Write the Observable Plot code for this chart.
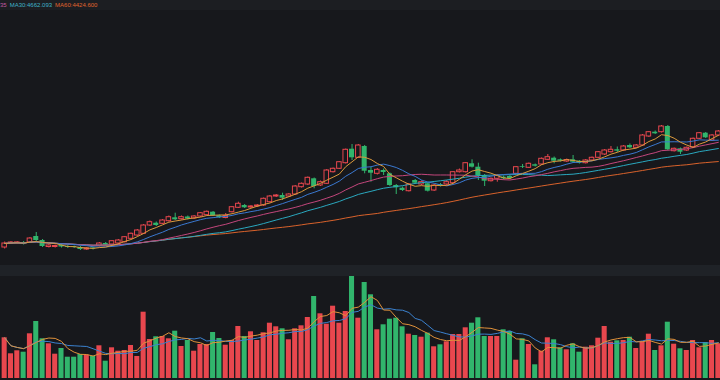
<!DOCTYPE html>
<html><head><meta charset="utf-8">
<script src="https://cdn.jsdelivr.net/npm/d3@7"></script>
<script src="https://cdn.jsdelivr.net/npm/@observablehq/plot@0.6"></script>
<style>
html,body{margin:0;padding:0;background:#17181c;width:720px;height:380px;overflow:hidden;}
#legend{height:10px;background:#1c1e22;font:6px "Liberation Sans",Arial,sans-serif;line-height:10px;white-space:nowrap;overflow:hidden;}
#legend span{margin-right:3px}
#sep{height:11px;background:#1f2227}
svg{display:block}
</style></head><body>
<div id="legend"><span style="color:#c05aa0">35</span><span style="color:#3fb3c9">MA30:4662.093</span><span style="color:#e0652e">MA60:4424.600</span></div>
<div id="price"></div>
<div id="sep"></div>
<div id="vol"></div>
<script>
const open = [2660,2740,2745,2760,2760,2880,2800,2670,2670,2710,
2680,2680,2660,2620,2650,2690,2740,2720,2740,2766,
2834,2900,2934,3100,3146,3134,3186,3254,3226,3270,
3240,3280,3306,3366,3294,3250,3366,3454,3500,3460,
3480,3500,3566,3680,3700,3680,3720,3866,3920,4034,
3900,3934,4166,4234,4346,4626,4454,4680,4200,4134,
4200,4134,3900,3846,3786,4000,3920,3934,3800,3920,
3920,3946,4166,4166,4334,4266,4100,3986,4034,4066,
4080,4134,4274,4254,4314,4320,4414,4446,4414,4380,
4414,4386,4346,4400,4454,4520,4566,4614,4600,4700,
4654,4700,4880,4966,4966,5080,4586,4634,4600,4666,
4834,4946,4800,4900];
const close = [2740,2760,2762,2730,2840,2800,2680,2700,2690,2670,
2660,2660,2620,2640,2630,2740,2710,2786,2800,2866,
2934,3000,3100,3166,3100,3200,3266,3214,3266,3230,
3280,3346,3374,3294,3254,3290,3466,3534,3454,3480,
3500,3634,3680,3700,3646,3720,3880,3934,4054,3880,
3966,4200,4234,4366,4614,4454,4700,4186,4146,4214,
4160,3900,3854,3800,3920,3946,3966,3786,3900,3894,
3966,4166,4200,4346,4266,4100,3986,4034,4100,4034,
4040,4266,4260,4334,4286,4434,4466,4386,4386,4410,
4366,4346,4400,4454,4566,4600,4614,4586,4680,4654,
4700,4900,4966,4934,5080,4614,4634,4566,4654,4834,
4946,4854,4900,4980];
const high = [2770,2780,2778,2780,2860,2960,2820,2720,2710,2730,
2700,2690,2680,2660,2670,2760,2760,2800,2820,2880,
2950,3020,3120,3190,3170,3220,3290,3346,3290,3290,
3300,3360,3390,3380,3310,3340,3480,3566,3520,3500,
3520,3650,3700,3720,3746,3740,3900,3950,4070,4050,
3990,4220,4250,4380,4630,4720,4720,4700,4266,4240,
4230,4150,3920,3870,3940,4020,3990,3950,3920,3940,
4000,4180,4230,4360,4414,4346,4120,4050,4120,4090,
4100,4280,4320,4350,4330,4450,4520,4470,4430,4430,
4500,4400,4420,4470,4580,4620,4680,4670,4700,4730,
4720,4920,4980,4990,5100,5100,4650,4650,4670,4850,
4960,4960,4920,5000];
const low = [2630,2720,2725,2710,2740,2780,2660,2650,2650,2650,
2640,2640,2600,2600,2610,2670,2690,2700,2720,2750,
2820,2880,2920,3080,3080,3120,3170,3200,3210,3210,
3220,3260,3290,3280,3240,3234,3350,3440,3440,3440,
3460,3480,3550,3660,3600,3660,3700,3850,3900,3834,
3880,3920,4150,4220,4330,4400,4440,4134,3966,4110,
4100,3880,3720,3780,3770,3920,3900,3770,3780,3870,
3900,3930,4150,4150,4250,4000,3880,3970,3966,4010,
4020,4120,4240,4240,4270,4300,4400,4334,4370,4360,
4350,4330,4330,4380,4440,4500,4550,4560,4580,4640,
4640,4680,4860,4920,4950,4590,4570,4520,4580,4650,
4820,4840,4780,4880];
const volume = [407,247,277,263,447,570,397,347,243,300,
213,213,240,233,223,327,173,307,273,280,
330,220,663,390,417,420,397,473,320,380,
273,340,340,460,400,333,380,520,420,467,
380,457,553,517,497,387,497,527,610,820,
647,543,723,553,670,1020,603,960,837,487,
537,593,603,517,443,430,413,453,317,337,
367,440,440,507,553,607,420,420,420,487,
470,183,397,340,137,273,407,387,307,287,
347,263,313,327,403,520,363,377,380,413,
300,370,443,280,327,563,343,297,280,380,
307,360,380,347];
const maPeriods = [5, 10, 20, 30, 60];
const maColors = ["#dc9a3c", "#3a78d0", "#c4467c", "#2aa8bf", "#d9622b"];
const volMaPeriods = [5, 10];
const volMaColors = ["#e0913a", "#3b82d0"];

const RED = "#e8474e", GREEN = "#31b56c", BG = "#17181c";
const candles = open.map((o, i) => ({i, open: o, close: close[i], high: high[i], low: low[i], vol: volume[i], up: close[i] >= o}));
const ups = candles.filter(d => d.up), downs = candles.filter(d => !d.up);
const xOpt = {domain: [-0.66, 113.34], range: [0, 720], axis: null};

const price = Plot.plot({
  width: 720, height: 255, margin: 0,
  x: xOpt,
  y: {domain: [2300, 7400], axis: null},
  style: {background: "transparent", overflow: "visible"},
  marks: [
    Plot.ruleX(ups, {x: "i", y1: "low", y2: "high", stroke: RED, strokeWidth: 1}),
    Plot.ruleX(downs, {x: "i", y1: "low", y2: "high", stroke: GREEN, strokeWidth: 1}),
    Plot.rectY(ups, {x1: d => d.i - 0.36, x2: d => d.i + 0.36, y1: "open", y2: "close", fill: BG, stroke: RED, strokeWidth: 1}),
    Plot.rectY(downs, {x1: d => d.i - 0.4, x2: d => d.i + 0.4, y1: "open", y2: "close", fill: GREEN}),
    ...maPeriods.map((k, j) => Plot.lineY(candles, Plot.windowY({k, anchor: "end", reduce: "mean", strict: false}, {x: "i", y: "close", stroke: maColors[j], strokeWidth: 1}))).reverse()
  ]
});
document.getElementById("price").appendChild(price);

const vol = Plot.plot({
  width: 720, height: 104, marginTop: 0, marginBottom: 2, marginLeft: 0, marginRight: 0,
  x: xOpt,
  y: {domain: [0, 1020], axis: null},
  style: {background: "transparent", overflow: "visible"},
  marks: [
    Plot.rectY(ups, {x1: d => d.i - 0.4, x2: d => d.i + 0.4, y1: 0, y2: "vol", fill: RED}),
    Plot.rectY(downs, {x1: d => d.i - 0.4, x2: d => d.i + 0.4, y1: 0, y2: "vol", fill: GREEN}),
    ...volMaPeriods.map((k, j) => Plot.lineY(candles, Plot.windowY({k, anchor: "end", reduce: "mean", strict: false}, {x: "i", y: "vol", stroke: volMaColors[j], strokeWidth: 1}))).reverse()
  ]
});
document.getElementById("vol").appendChild(vol);
</script>
</body></html>
